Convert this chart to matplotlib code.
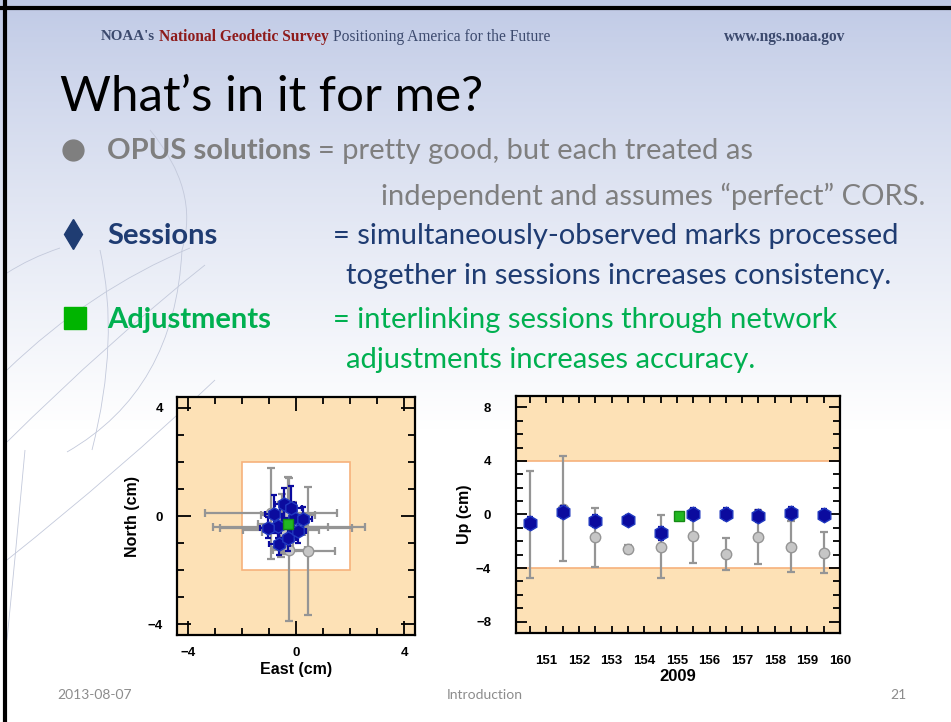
import numpy as np
import matplotlib
matplotlib.use("Agg")
import matplotlib.pyplot as plt
from matplotlib.patches import Rectangle, PathPatch
from matplotlib.path import Path
from matplotlib.ticker import MultipleLocator

# ---- data ----
# time series (Up component), one point per day of 2009
days = [150.5, 151.5, 152.5, 153.5, 154.5, 155.5, 156.5, 157.5, 158.5, 159.5]
day_labels = [151, 152, 153, 154, 155, 156, 157, 158, 159, 160]
up_opus = [-0.72, 0.43, -1.70, -2.56, -2.41, -1.62, -2.96, -1.69, -2.41, -2.85]
up_opus_err = [4.0, 3.9, 2.2, 0.3, 2.34, 2.04, 1.22, 2.0, 1.9, 1.55]
up_sess = [-0.67, 0.17, -0.52, -0.42, -1.42, 0.0, 0.05, -0.08, 0.12, -0.02]
up_sess_err = [0.45, 0.45, 0.45, 0.40, 0.50, 0.45, 0.45, 0.45, 0.45, 0.40]
adj_day = 155.05
up_adj = -0.12

# horizontal scatter (East / North)
east_opus = [-0.92, -0.30, 0.43, -0.25, -0.25, -0.37, -0.55, -0.10, -0.45, -0.50]
north_opus = [0.10, 0.05, -1.29, -1.25, -0.40, -0.45, -0.50, -0.40, -0.60, -0.30]
east_opus_err = [2.45, 1.0, 1.0, 0.6, 2.8, 2.45, 1.4, 1.3, 0.8, 0.9]
north_opus_err = [1.68, 1.4, 2.38, 2.65, 0.9, 0.8, 1.0, 0.9, 0.8, 1.1]
east_sess = [-0.43, -0.67, -1.04, -0.06, 0.25, -0.61, -0.31, -0.80, -0.18, 0.06]
north_sess = [0.43, -0.37, -0.43, -0.06, -0.12, -1.04, -0.80, 0.06, 0.31, -0.55]
east_sess_err = [0.35, 0.40, 0.30, 0.45, 0.35, 0.40, 0.30, 0.35, 0.40, 0.30]
north_sess_err = [0.60, 0.45, 0.40, 0.55, 0.45, 0.40, 0.50, 0.70, 0.80, 0.45]
east_adj = -0.31
north_adj = -0.28

peach = "#FDE1B6"
orange = "#F6B27C"
gray_face = "#C6C6C6"
gray_line = "#959595"
blue_face = "#0B0B9E"
blue_edge = "#2038C0"
green_face = "#22B822"

fig = plt.figure(figsize=(9.51, 7.22), dpi=100)

# ---- slide background in pixel coordinates ----
bg = fig.add_axes([0, 0, 1, 1])
t = np.linspace(0, 1, 400)[:, None, None]
top = np.array([0.75, 0.79, 0.90])
img = top + (1 - top) * t ** 0.85
img = np.repeat(img, 2, axis=1)
bg.imshow(img, extent=(0, 951, 430, 0), aspect="auto", zorder=0)
bg.add_patch(Rectangle((0, 430), 951, 300, color="white", zorder=0))

# faint decorative curves on the left
curves = [((7, 370), (90, 290), (190, 248)),
          ((7, 442), (110, 340), (205, 265)),
          ((7, 273), (30, 258), (60, 248)),
          ((100, 250), (120, 340), (92, 450)),
          ((182, 250), (175, 390), (67, 452)),
          ((7, 560), (120, 470), (215, 380)),
          ((25, 450), (15, 560), (7, 640)),
          ((150, 130), (200, 190), (182, 250))]
for p0, p1, p2 in curves:
    path = Path([p0, p1, p2], [Path.MOVETO, Path.CURVE3, Path.CURVE3])
    bg.add_patch(PathPatch(path, facecolor="none", edgecolor="#C3C9DB",
                           lw=0.6, zorder=1))
bg.plot([5, 5], [0, 722], color="black", lw=3, zorder=2)
bg.plot([0, 951], [8, 8], color="black", lw=3, zorder=2)
bg.set_xlim(0, 951)
bg.set_ylim(722, 0)
bg.axis("off")

# header
serif = "Liberation Serif"
bg.text(101, 37, "NOAA's", family=serif, weight="bold", fontsize=10.8,
        color="#3C4A6E", va="center")
bg.text(159, 37, "National Geodetic Survey", family=serif, weight="bold",
        fontsize=11.2, color="#8E1B1B", va="center")
bg.text(333, 37, "Positioning America for the Future", family=serif,
        fontsize=11.2, color="#3C4A6E", va="center")
bg.text(845, 37, "www.ngs.noaa.gov", family=serif, weight="bold",
        fontsize=11.2, color="#3C4A6E", va="center", ha="right")

# title and bullets
body = "Lato"
fs = 21
bg.text(60, 97, "What\u2019s in it for me?", family=body, fontsize=35.5,
        color="black", va="center")

gray_txt = "#7F7F7F"
blue_txt = "#1F3C72"
green_txt = "#00B050"
bg.plot(73, 150, "o", ms=15, color="#7F7F7F")
bg.text(107, 151, "OPUS solutions", family=body, weight="bold", fontsize=fs,
        color=gray_txt, va="center")
bg.text(318, 151, "= pretty good, but each treated as", family=body,
        fontsize=fs, color=gray_txt, va="center")
bg.text(381, 196, "independent and assumes \u201cperfect\u201d CORS.", family=body,
        fontsize=fs, color=gray_txt, va="center")
bg.plot(73, 234, "d", ms=15, color="#1F3C72")
bg.text(107, 236, "Sessions", family=body, weight="bold", fontsize=fs,
        color=blue_txt, va="center")
bg.text(333, 236, "= simultaneously-observed marks processed", family=body,
        fontsize=fs, color=blue_txt, va="center")
bg.text(346, 276, "together in sessions increases consistency.", family=body,
        fontsize=fs, color=blue_txt, va="center")
bg.plot(74.5, 318, "s", ms=16.5, color="#00B400")
bg.text(107, 320, "Adjustments", family=body, weight="bold", fontsize=fs,
        color=green_txt, va="center")
bg.text(333, 320, "= interlinking sessions through network", family=body,
        fontsize=fs, color=green_txt, va="center")
bg.text(346, 360, "adjustments increases accuracy.", family=body,
        fontsize=fs, color=green_txt, va="center")

# footer
bg.text(57, 695, "2013-08-07", family=body, fontsize=10, color="#8C8C8C",
        va="center")
bg.text(485, 695, "Introduction", family=body, fontsize=10, color="#8C8C8C",
        va="center", ha="center")
bg.text(907, 695, "21", family=body, fontsize=10, color="#8C8C8C",
        va="center", ha="right")

# ---- plots ----
sans = "Liberation Sans"


def style_axes(ax):
    for s in ax.spines.values():
        s.set_linewidth(1.6)
    ax.tick_params(which="both", direction="in", top=True, right=True,
                   width=1.3, colors="black")
    ax.tick_params(which="major", length=8)
    ax.tick_params(which="minor", length=5)
    for lab in ax.get_xticklabels() + ax.get_yticklabels():
        lab.set_fontweight("bold")
        lab.set_family(sans)


# East / North scatter
ax1 = fig.add_axes([0.1861, 0.1205, 0.2503, 0.3296])
ax1.set_facecolor(peach)
ax1.add_patch(Rectangle((-2, -2), 4, 4, facecolor="white", edgecolor=orange,
                        lw=1.2, zorder=0.5))
ax1.errorbar(east_opus, north_opus, xerr=east_opus_err, yerr=north_opus_err,
             fmt="o", ms=7.5, mfc=gray_face, mec=gray_line, ecolor=gray_line,
             elinewidth=1.6, capsize=3, capthick=1.6, zorder=2)
ax1.errorbar(east_sess, north_sess, xerr=east_sess_err, yerr=north_sess_err,
             fmt="h", ms=9.5, mfc=blue_face, mec=blue_edge, ecolor=blue_face,
             elinewidth=1.6, capsize=2.5, capthick=1.6, zorder=3)
ax1.plot(east_adj, north_adj, "s", ms=7, mfc=green_face, mec="#158A15",
         zorder=4)
ax1.set_xlim(-4.4, 4.4)
ax1.set_ylim(-4.4, 4.4)
ax1.set_xticks([-4, 0, 4])
ax1.set_yticks([-4, 0, 4])
ax1.set_xticklabels(["\u22124", "0", "4"])
ax1.set_yticklabels(["\u22124", "0", "4"])
ax1.xaxis.set_minor_locator(MultipleLocator(1))
ax1.yaxis.set_minor_locator(MultipleLocator(1))
style_axes(ax1)
ax1.tick_params(which="major", length=10)
ax1.tick_params(which="both", labelsize=9.5)
ax1.tick_params(axis="x", pad=9)
ax1.tick_params(axis="y", pad=10)
ax1.set_xlabel("East (cm)", family=sans, weight="bold", fontsize=11.5,
               labelpad=2)
ax1.set_ylabel("North (cm)", family=sans, weight="bold", fontsize=11.5,
               labelpad=6)

# Up time series
ax2 = fig.add_axes([0.5426, 0.1233, 0.3407, 0.3283])
ax2.set_facecolor(peach)
ax2.axhspan(-4, 4, facecolor="white", zorder=0.5)
ax2.axhline(4, color=orange, lw=1.2, zorder=0.6)
ax2.axhline(-4, color=orange, lw=1.2, zorder=0.6)
ax2.errorbar(days, up_opus, yerr=up_opus_err, fmt="o", ms=7.5,
             mfc=gray_face, mec=gray_line, ecolor=gray_line, elinewidth=1.6,
             capsize=3, capthick=1.6, zorder=2)
ax2.errorbar(days, up_sess, yerr=up_sess_err, fmt="h", ms=10.5,
             mfc=blue_face, mec=blue_edge, ecolor=blue_face, elinewidth=1.6,
             capsize=2.5, capthick=1.6, zorder=3)
ax2.plot(adj_day, up_adj, "s", ms=7, mfc=green_face, mec="#158A15", zorder=4)
ax2.set_xlim(150.07, 160.0)
ax2.set_ylim(-8.85, 8.85)
ax2.set_xticks(day_labels)
ax2.set_xticklabels([str(d) for d in day_labels])
ax2.set_yticks([-8, -4, 0, 4, 8])
ax2.set_yticklabels(["\u22128", "\u22124", "0", "4", "8"])
ax2.xaxis.set_minor_locator(MultipleLocator(0.5))
ax2.yaxis.set_minor_locator(MultipleLocator(1))
style_axes(ax2)
ax2.tick_params(which="major", axis="x", length=5)
ax2.tick_params(which="both", labelsize=9.5)
ax2.tick_params(axis="x", pad=16)
ax2.tick_params(axis="y", pad=18)
ax2.set_xlabel("2009", family=sans, weight="bold", fontsize=12, labelpad=1)
ax2.set_ylabel("Up (cm)", family=sans, weight="bold", fontsize=11.5,
               labelpad=3)

fig.savefig("out.png", dpi=100)
